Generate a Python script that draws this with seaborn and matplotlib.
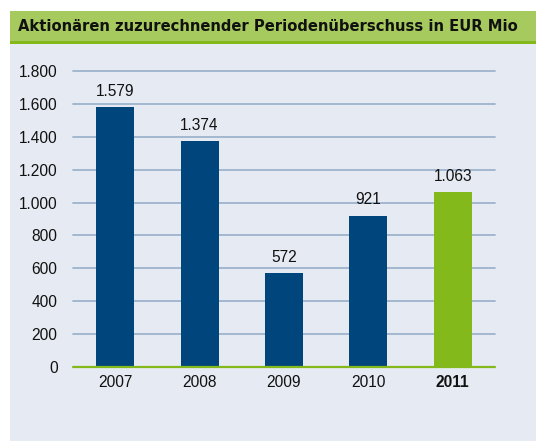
import numpy as np
import pandas as pd
import matplotlib
matplotlib.use("Agg")
import matplotlib.pyplot as plt
from matplotlib.patches import Rectangle
import seaborn as sns

years = ["2007", "2008", "2009", "2010", "2011"]
values = [1579, 1374, 572, 921, 1063]
value_labels = ["1.579", "1.374", "572", "921", "1.063"]
y_ticks = [0, 200, 400, 600, 800, 1000, 1200, 1400, 1600, 1800]
y_tick_labels = ["0", "200", "400", "600", "800", "1.000", "1.200", "1.400", "1.600", "1.800"]
title = "Aktionären zuzurechnender Periodenüberschuss in EUR Mio"

blue = "#00457c"
green = "#84b91c"
panel_bg = "#e6eaf2"
band_bg = "#a6ca5e"
grid_col = "#9db4cd"

sns.set_theme(style="white")
plt.rcParams["font.family"] = ["Liberation Sans", "DejaVu Sans"]

df = pd.DataFrame({"year": years, "value": values})

fig = plt.figure(figsize=(5.36, 4.43), dpi=100)
fig.patch.set_facecolor("white")

# panel background, title band and its underline (behind the axes)
for (x0, y0, w, h, c) in [(0.0187, 0.0045, 0.99, 0.896, panel_bg),
                          (0.0187, 0.9074, 0.99, 0.0678, band_bg),
                          (0.0187, 0.9007, 0.99, 0.0067, green)]:
    fig.patches.append(Rectangle((x0, y0), w, h, transform=fig.transFigure,
                                 facecolor=c, edgecolor="none", zorder=-5))

t = fig.text(0.034, 0.941, title, fontsize=13.5, fontweight="bold",
             family=["Liberation Sans Narrow", "DejaVu Sans"], fontstretch="condensed",
             va="center", ha="left", color="#111111")
# fit the title to the band width seen in the reference (~497 px)
fig.canvas.draw()
w = t.get_window_extent().width
t.set_fontsize(13.5 * 497 / w)

ax = fig.add_axes([0.136, 0.1716, 0.7875, 0.6681])
ax.set_facecolor("none")

sns.barplot(data=df, x="year", y="value", hue="year",
            palette=[blue, blue, blue, blue, green], width=0.45,
            legend=False, ax=ax, zorder=3, saturation=1, linewidth=0)

ax.set_xlim(-0.5, 4.5)
ax.set_ylim(0, 1800)
ax.set_yticks(y_ticks)
ax.set_yticklabels(y_tick_labels)
for y in y_ticks[1:]:
    ax.axhline(y, color=grid_col, lw=1.3, zorder=1, clip_on=False)
ax.axhline(0, color=green, lw=1.6, zorder=4, clip_on=False)

for i, (v, lab) in enumerate(zip(values, value_labels)):
    ax.text(i, v + 50, lab, ha="center", va="bottom", fontsize=11.2, color="#111111")

for s in ax.spines.values():
    s.set_visible(False)
ax.tick_params(axis="both", length=0, labelsize=11.2, colors="#111111")
ax.tick_params(axis="y", pad=11)
ax.tick_params(axis="x", pad=6)
ax.get_xticklabels()[-1].set_fontweight("bold")
ax.set_xlabel("")
ax.set_ylabel("")

fig.savefig("out.png", dpi=100)
